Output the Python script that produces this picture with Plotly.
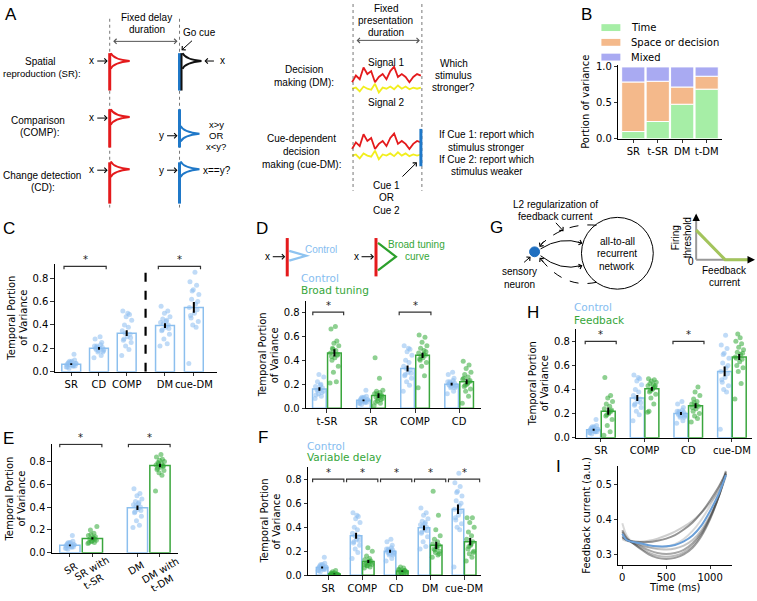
import plotly.graph_objects as go

W, H = 757, 601
ARIAL = "Liberation Sans, Arial, sans-serif"
DEJAVU = "DejaVu Sans, sans-serif"

BLUE_EDGE = "#8cbfee"
BLUE_PT = "rgba(140,190,240,0.55)"
BLUE_TXT = "#86bdf0"
GREEN_EDGE = "#3aa63d"
GREEN_PT = "rgba(50,170,55,0.55)"
GREEN_TXT = "#35a639"

# ------------------------------------------------------------------ data
# Panel B: portion of variance
B_CATS = ["SR", "t-SR", "DM", "t-DM"]
B_TIME = [0.10, 0.24, 0.48, 0.69]
B_SPACE = [0.69, 0.56, 0.24, 0.18]
B_MIXED = [0.21, 0.20, 0.28, 0.13]

# Per-network temporal portion of variance
SR_CTRL = [0.04, 0.05, 0.06, 0.07, 0.08, 0.09, 0.10, 0.06, 0.05, 0.03, 0.07, 0.08, 0.15, 0.04, 0.06, 0.09, 0.05, 0.07]
CD_CTRL = [0.12, 0.14, 0.17, 0.18, 0.19, 0.20, 0.21, 0.22, 0.23, 0.22, 0.19, 0.18, 0.25, 0.28, 0.30, 0.21, 0.17, 0.20]
COMP_CTRL = [0.14, 0.19, 0.22, 0.25, 0.28, 0.30, 0.32, 0.35, 0.38, 0.40, 0.44, 0.47, 0.49, 0.52, 0.50, 0.33, 0.29, 0.27]
DM_CTRL = [0.22, 0.24, 0.28, 0.32, 0.36, 0.38, 0.40, 0.42, 0.44, 0.45, 0.47, 0.50, 0.52, 0.56, 0.43, 0.41, 0.37, 0.35]
CUEDM_CTRL = [0.07, 0.38, 0.40, 0.43, 0.46, 0.50, 0.53, 0.55, 0.58, 0.62, 0.66, 0.70, 0.74, 0.77, 0.85, 0.69, 0.60, 0.48]
TSR_CTRL = [0.08, 0.10, 0.12, 0.14, 0.15, 0.16, 0.17, 0.18, 0.20, 0.22, 0.26, 0.28, 0.13, 0.11, 0.19, 0.15]
TSR_BROAD = [0.21, 0.22, 0.30, 0.35, 0.40, 0.42, 0.44, 0.46, 0.48, 0.50, 0.52, 0.54, 0.56, 0.66, 0.68, 0.49, 0.45, 0.43]
SR_BROAD = [0.02, 0.04, 0.06, 0.08, 0.09, 0.10, 0.11, 0.12, 0.13, 0.14, 0.15, 0.08, 0.07, 0.42, 0.25, 0.12, 0.10, 0.05]
COMP_BROAD = [0.17, 0.27, 0.35, 0.38, 0.40, 0.42, 0.44, 0.46, 0.48, 0.50, 0.52, 0.55, 0.59, 0.61, 0.45, 0.43, 0.47, 0.41]
CD_BROAD = [0.04, 0.10, 0.14, 0.16, 0.18, 0.20, 0.22, 0.24, 0.26, 0.28, 0.30, 0.33, 0.36, 0.39, 0.21, 0.19, 0.23, 0.25]
SR_WITH_TSR = [0.08, 0.09, 0.10, 0.11, 0.12, 0.13, 0.14, 0.15, 0.17, 0.20, 0.23, 0.10, 0.12, 0.09, 0.13, 0.16]
DM_WITH_TDM = [0.54, 0.68, 0.70, 0.72, 0.74, 0.75, 0.76, 0.77, 0.78, 0.79, 0.80, 0.81, 0.82, 0.84, 0.86, 0.78, 0.76, 0.73]
SR_VAR = [0.0, 0.005, 0.01, 0.01, 0.015, 0.02, 0.005, 0.01, 0.04, 0.03, 0.0, 0.008, 0.012, 0.02]
COMP_VAR = [0.06, 0.07, 0.08, 0.09, 0.10, 0.11, 0.12, 0.13, 0.14, 0.16, 0.20, 0.23, 0.10, 0.09, 0.12, 0.08]
CD_VAR = [0.01, 0.015, 0.02, 0.025, 0.03, 0.035, 0.04, 0.05, 0.06, 0.07, 0.03, 0.02, 0.04, 0.045]
DM_VAR = [0.15, 0.17, 0.19, 0.20, 0.22, 0.24, 0.25, 0.26, 0.28, 0.30, 0.33, 0.38, 0.50, 0.70, 0.23, 0.21, 0.18]
CUEDM_VAR = [0.12, 0.15, 0.18, 0.20, 0.22, 0.25, 0.28, 0.30, 0.33, 0.36, 0.40, 0.44, 0.48, 0.48, 0.26, 0.24, 0.19]
SR_FB = [0.02, 0.05, 0.10, 0.15, 0.18, 0.20, 0.22, 0.24, 0.26, 0.28, 0.30, 0.33, 0.35, 0.50, 0.21, 0.19, 0.23]
COMP_FB = [0.21, 0.28, 0.33, 0.36, 0.38, 0.40, 0.42, 0.43, 0.44, 0.45, 0.46, 0.47, 0.48, 0.49, 0.41, 0.39, 0.43, 0.22]
CD_FB = [0.13, 0.16, 0.18, 0.20, 0.22, 0.24, 0.26, 0.28, 0.30, 0.32, 0.35, 0.38, 0.42, 0.25, 0.27, 0.29]
CUEDM_FB = [0.32, 0.45, 0.55, 0.58, 0.60, 0.63, 0.65, 0.67, 0.69, 0.71, 0.73, 0.75, 0.78, 0.80, 0.83, 0.86, 0.70, 0.66]

# Panel C
C_CATS = ["SR", "CD", "COMP", "DM", "cue-DM"]
C_MEAN = [0.065, 0.20, 0.33, 0.395, 0.55]
C_SEM = [0.008, 0.012, 0.025, 0.02, 0.045]
C_PTS = [SR_CTRL, CD_CTRL, COMP_CTRL, DM_CTRL, CUEDM_CTRL]

# Panel D
D_CATS = ["t-SR", "SR", "COMP", "CD"]
D_CTRL_MEAN = [0.16, 0.065, 0.33, 0.20]
D_CTRL_SEM = [0.015, 0.008, 0.025, 0.012]
D_BROAD_MEAN = [0.46, 0.105, 0.44, 0.22]
D_BROAD_SEM = [0.03, 0.02, 0.022, 0.02]
D_CTRL_PTS = [TSR_CTRL, SR_CTRL, COMP_CTRL, CD_CTRL]
D_BROAD_PTS = [TSR_BROAD, SR_BROAD, COMP_BROAD, CD_BROAD]

# Panel E
E_CATS = ["SR", "SR with t-SR", "DM", "DM with t-DM"]
E_MEAN = [0.065, 0.125, 0.395, 0.765]
E_SEM = [0.008, 0.01, 0.02, 0.015]
E_PTS = [SR_CTRL, SR_WITH_TSR, DM_CTRL, DM_WITH_TDM]

# Panel F
F_CATS = ["SR", "COMP", "CD", "DM", "cue-DM"]
F_CTRL_MEAN = [0.065, 0.33, 0.20, 0.395, 0.55]
F_CTRL_SEM = [0.008, 0.025, 0.012, 0.02, 0.04]
F_VAR_MEAN = [0.012, 0.115, 0.035, 0.25, 0.28]
F_VAR_SEM = [0.004, 0.012, 0.006, 0.03, 0.03]
F_CTRL_PTS = [SR_CTRL, COMP_CTRL, CD_CTRL, DM_CTRL, CUEDM_CTRL]
F_VAR_PTS = [SR_VAR, COMP_VAR, CD_VAR, DM_VAR, CUEDM_VAR]

# Panel H
H_CATS = ["SR", "COMP", "CD", "cue-DM"]
H_CTRL_MEAN = [0.065, 0.33, 0.20, 0.55]
H_CTRL_SEM = [0.008, 0.025, 0.012, 0.04]
H_FB_MEAN = [0.22, 0.405, 0.265, 0.67]
H_FB_SEM = [0.03, 0.015, 0.02, 0.025]
H_CTRL_PTS = [SR_CTRL, COMP_CTRL, CD_CTRL, CUEDM_CTRL]
H_FB_PTS = [SR_FB, COMP_FB, CD_FB, CUEDM_FB]

# Panel I: feedback current over time
I_TIME = [0, 50, 100, 200, 300, 400, 500, 600, 700, 800, 900, 1000, 1100, 1180]
I_GRAY = [
    [0.345, 0.340, 0.338, 0.337, 0.340, 0.346, 0.355, 0.366, 0.380, 0.397, 0.420, 0.448, 0.485, 0.530],
    [0.350, 0.342, 0.339, 0.336, 0.336, 0.340, 0.346, 0.356, 0.372, 0.392, 0.420, 0.455, 0.495, 0.532],
    [0.355, 0.343, 0.338, 0.330, 0.321, 0.316, 0.315, 0.318, 0.326, 0.342, 0.370, 0.412, 0.468, 0.525],
    [0.365, 0.345, 0.337, 0.325, 0.313, 0.305, 0.302, 0.305, 0.314, 0.333, 0.363, 0.408, 0.468, 0.530],
    [0.350, 0.342, 0.336, 0.320, 0.306, 0.297, 0.294, 0.297, 0.307, 0.326, 0.358, 0.405, 0.468, 0.535],
    [0.370, 0.348, 0.337, 0.318, 0.301, 0.291, 0.288, 0.291, 0.301, 0.320, 0.353, 0.402, 0.468, 0.538],
    [0.390, 0.355, 0.340, 0.328, 0.322, 0.320, 0.322, 0.330, 0.345, 0.368, 0.400, 0.440, 0.490, 0.540],
]
I_GRAY_ALPHA = [0.25, 0.55, 0.3, 0.45, 0.35, 0.5, 0.2]
I_BLUE = [0.360, 0.342, 0.338, 0.333, 0.327, 0.324, 0.324, 0.328, 0.338, 0.355, 0.383, 0.425, 0.475, 0.528]

# Panel A schematic noisy signals (relative amplitude)
SIGNAL1 = [0.1, 0.55, 0.3, 1.1, 0.65, 0.85, 0.1, 0.45, 0.65, 0.3, 0.85, 1.15, 0.45, 0.65, 0.45, 0.1, 0.45, 0.65, 0.55]
SIGNAL2 = [0.35, 0.45, 0.1, 0.55, 0.35, 0.25, 0.8, 0.0, 0.45, 0.35, 0.55, 0.3, 0.65, 0.35, 0.55, 0.3, 0.45, 0.35, 0.45]

# fixed jitter pattern for the strip points (fraction of spread)
JITTER = [-0.9, 0.4, -0.2, 0.8, -0.5, 0.1, 0.6, -0.8, 0.3, -0.4, 0.9, -0.1, 0.5, -0.7, 0.2, -0.3, 0.7, -0.6, 0.0, 0.45]

# ------------------------------------------------------------------ helpers
fig = go.Figure()
shapes = []
annotations = []
layout = {}


def ref(n):
    return ("x", "y") if n == 1 else (f"x{n}", f"y{n}")


def key(n):
    return ("xaxis", "yaxis") if n == 1 else (f"xaxis{n}", f"yaxis{n}")


AX = dict(showline=True, linecolor="black", linewidth=1, ticks="outside", ticklen=3.5,
          tickwidth=0.8, tickcolor="black", showgrid=False, zeroline=False, tickangle=0,
          tickfont=dict(family=DEJAVU, size=10, color="black"), fixedrange=True)


def make_axes(n, px0, px1, pyt, pyb, xr, yr, xvals=None, xtext=None, yvals=None, yfmt=None):
    kx, ky = key(n)
    rx, ry = ref(n)
    xa = dict(AX, domain=[px0 / W, px1 / W], range=xr, anchor=ry)
    ya = dict(AX, domain=[1 - pyb / H, 1 - pyt / H], range=yr, anchor=rx)
    if xvals is not None:
        xa.update(tickmode="array", tickvals=xvals, ticktext=xtext)
    if yvals is not None:
        ya.update(tickmode="array", tickvals=yvals)
    if yfmt:
        ya.update(tickformat=yfmt)
    layout[kx] = xa
    layout[ky] = ya


def txt(x, y, s, size=10, color="black", anchor="center", family=ARIAL, angle=0, n=1):
    rx, ry = ref(n)
    annotations.append(dict(x=x, y=y, xref=rx, yref=ry, text=s, showarrow=False,
                            font=dict(family=family, size=size, color=color),
                            xanchor=anchor, yanchor="middle", textangle=angle))


def arrow(x0, y0, x1, y1, head=4, color="black", width=1, size=1.0, both=False):
    annotations.append(dict(x=x1, y=y1, ax=x0, ay=y0, xref="x", yref="y", axref="x", ayref="y",
                            text="", showarrow=True, arrowhead=head, arrowsize=size,
                            arrowwidth=width, arrowcolor=color,
                            arrowside="end+start" if both else "end",
                            startarrowhead=head, startarrowsize=size, standoff=0, startstandoff=0))


def line(x0, y0, x1, y1, color="black", width=1, dash="solid", n=1):
    rx, ry = ref(n)
    shapes.append(dict(type="line", x0=x0, y0=y0, x1=x1, y1=y1, xref=rx, yref=ry,
                       line=dict(color=color, width=width, dash=dash)))


def path(p, color="black", width=1, dash="solid", fill=None, n=1):
    rx, ry = ref(n)
    d = dict(type="path", path=p, xref=rx, yref=ry, line=dict(color=color, width=width, dash=dash))
    if fill:
        d["fillcolor"] = fill
    shapes.append(d)


def bracket(n, x1, x2, level, drop=0.025):
    path(f"M {x1},{level - drop} L {x1},{level} L {x2},{level} L {x2},{level - drop}",
         color="#333", width=1.2, n=n)
    rx, ry = ref(n)
    annotations.append(dict(x=(x1 + x2) / 2, y=level - 0.005, xref=rx, yref=ry, text="*", showarrow=False,
                            yanchor="bottom", yshift=0,
                            font=dict(family=DEJAVU, size=10, color="#222")))


def bar_group(n, xs, means, sems, pts, edge, ptcol, width, spread):
    rx, ry = ref(n)
    fig.add_trace(go.Bar(x=xs, y=means, width=width, xaxis=rx, yaxis=ry,
                         marker=dict(color="rgba(255,255,255,0)", line=dict(color=edge, width=1.5))))
    px, py = [], []
    for xc, vals in zip(xs, pts):
        for k, v in enumerate(vals):
            px.append(xc + JITTER[k % len(JITTER)] * spread)
            py.append(v)
    fig.add_trace(go.Scatter(x=px, y=py, mode="markers", xaxis=rx, yaxis=ry,
                             marker=dict(size=5, color=ptcol, line=dict(width=0))))
    fig.add_trace(go.Scatter(x=xs, y=means, mode="markers", xaxis=rx, yaxis=ry,
                             marker=dict(size=1, color="rgba(0,0,0,0)"),
                             error_y=dict(type="data", array=sems, visible=True, color="black",
                                          thickness=2, width=0)))


# ------------------------------------------------------------------ overlay axis (pixel space)
layout["xaxis"] = dict(domain=[0, 1], range=[0, W], visible=False, fixedrange=True)
layout["yaxis"] = dict(domain=[0, 1], range=[H, 0], visible=False, fixedrange=True)
fig.add_trace(go.Scatter(x=[0, W], y=[0, H], mode="markers", marker=dict(size=1, opacity=0),
                         xaxis="x", yaxis="y", hoverinfo="skip"))

# ------------------------------------------------------------------ panel B
make_axes(2, 620, 724, 62, 137, [-0.61, 3.63], [0, 1.027], xvals=[0, 1, 2, 3], xtext=B_CATS,
          yvals=[0, 0.5, 1.0], yfmt=".1f")
base2 = [t + s for t, s in zip(B_TIME, B_SPACE)]
for vals, base, col in [(B_TIME, [0, 0, 0, 0], "#a6eea6"), (B_SPACE, B_TIME, "#f4b98b"),
                        (B_MIXED, base2, "#a9aaf2")]:
    fig.add_trace(go.Bar(x=[0, 1, 2, 3], y=vals, base=base, width=0.95, xaxis="x2", yaxis="y2",
                         marker=dict(color=col, line=dict(color="white", width=1))))
for yc, col, lab in [(24, "#a6eea6", "Time"), (39, "#f4b98b", "Space or decision"), (54, "#a9aaf2", "Mixed")]:
    shapes.append(dict(type="rect", x0=603, x1=622, y0=yc - 3.5, y1=yc + 3.5, xref="x", yref="y",
                       fillcolor=col, line=dict(width=0)))
    txt(631, yc, lab, family=DEJAVU, anchor="left")
txt(587, 99, "Portion of variance", family=DEJAVU, angle=-90)

# ------------------------------------------------------------------ panel C
C_POS = [0, 1, 2, 3.38, 4.42]
make_axes(3, 55, 218, 264, 374, [-0.59, 5.27], [0, 0.924], xvals=C_POS, xtext=C_CATS,
          yvals=[0, 0.2, 0.4, 0.6, 0.8], yfmt=".1f")
bar_group(3, C_POS, C_MEAN, C_SEM, C_PTS, BLUE_EDGE, BLUE_PT, 0.68, 0.2)
line(2.68, 0, 2.68, 0.88, color="black", width=2.2, dash="dash", n=3)
bracket(3, -0.26, 1.26, 0.9)
bracket(3, 3.14, 4.66, 0.9)
txt(12, 319, "Temporal Portion", family=DEJAVU, angle=-90)
txt(24, 319, "of Variance", family=DEJAVU, angle=-90)

# ------------------------------------------------------------------ panel D
D_POS = [0, 1, 2, 3]
make_axes(4, 307, 482, 302, 411, [-0.47, 3.49], [0, 0.893], xvals=D_POS, xtext=D_CATS,
          yvals=[0, 0.2, 0.4, 0.6, 0.8], yfmt=".1f")
bar_group(4, [p - 0.17 for p in D_POS], D_CTRL_MEAN, D_CTRL_SEM, D_CTRL_PTS, BLUE_EDGE, BLUE_PT, 0.31, 0.11)
bar_group(4, [p + 0.17 for p in D_POS], D_BROAD_MEAN, D_BROAD_SEM, D_BROAD_PTS, GREEN_EDGE, GREEN_PT, 0.31, 0.11)
bracket(4, -0.32, 0.38, 0.8)
bracket(4, 1.64, 2.36, 0.8)
txt(263, 357, "Temporal Portion", family=DEJAVU, angle=-90)
txt(275, 357, "of Variance", family=DEJAVU, angle=-90)
txt(300, 279, "Control", family=DEJAVU, color=BLUE_TXT, anchor="left", size=10.5)
txt(300, 291, "Broad tuning", family=DEJAVU, color=GREEN_TXT, anchor="left", size=10.5)
# D schematic
line(288, 238, 288, 277, color="#e41a1c", width=3)
txt(268, 257, "x", size=10)
arrow(272, 257, 286, 257)
path("M 290,251 L 307,256 L 290,261", color="#8ec3f0", width=2.2)
txt(304, 250, "Control", color=BLUE_TXT, anchor="left")
line(377, 238, 377, 277, color="#e41a1c", width=3)
txt(357, 257, "x", size=10)
arrow(361, 257, 375, 257)
path("M 379,243 L 397,257 L 379,271", color="#2ca02c", width=2.2)
txt(418, 245, "Broad tuning", color=GREEN_TXT)
txt(419, 257, "curve", color=GREEN_TXT)

# ------------------------------------------------------------------ panel E
E_POS = [0, 1, 3, 4]
make_axes(5, 52, 178, 447, 558, [-0.8, 4.78], [0, 0.957], xvals=E_POS, xtext=["", "", "", ""],
          yvals=[0, 0.2, 0.4, 0.6, 0.8], yfmt=".1f")
bar_group(5, E_POS[:1] + E_POS[2:3], [E_MEAN[0], E_MEAN[2]], [E_SEM[0], E_SEM[2]],
          [E_PTS[0], E_PTS[2]], BLUE_EDGE, BLUE_PT, 0.9, 0.22)
bar_group(5, E_POS[1:2] + E_POS[3:4], [E_MEAN[1], E_MEAN[3]], [E_SEM[1], E_SEM[3]],
          [E_PTS[1], E_PTS[3]], GREEN_EDGE, GREEN_PT, 0.9, 0.22)
bracket(5, -0.45, 1.42, 0.95)
bracket(5, 2.6, 4.45, 0.95)
txt(10, 503, "Temporal Portion", family=DEJAVU, angle=-90)
txt(22, 503, "of Variance", family=DEJAVU, angle=-90)
txt(71, 574, "SR", family=DEJAVU, angle=-30)
txt(92, 574, "SR with", family=DEJAVU, angle=-30)
txt(94, 587, "t-SR", family=DEJAVU, angle=-30)
txt(136, 574, "DM", family=DEJAVU, angle=-30)
txt(161, 576, "DM with", family=DEJAVU, angle=-30)
txt(162, 589, "t-DM", family=DEJAVU, angle=-30)

# ------------------------------------------------------------------ panel F
F_POS = [0, 1, 2, 3, 4]
make_axes(6, 309, 482, 471, 581, [-0.59, 4.49], [0, 0.90], xvals=F_POS, xtext=F_CATS,
          yvals=[0, 0.2, 0.4, 0.6, 0.8], yfmt=".1f")
bar_group(6, [p - 0.18 for p in F_POS], F_CTRL_MEAN, F_CTRL_SEM, F_CTRL_PTS, BLUE_EDGE, BLUE_PT, 0.34, 0.13)
bar_group(6, [p + 0.18 for p in F_POS], F_VAR_MEAN, F_VAR_SEM, F_VAR_PTS, GREEN_EDGE, GREEN_PT, 0.34, 0.13)
for p in F_POS:
    bracket(6, p - 0.46, p + 0.46, 0.8)
txt(265, 526, "Temporal Portion", family=DEJAVU, angle=-90)
txt(277, 526, "of Variance", family=DEJAVU, angle=-90)
txt(306, 449, "Control", family=DEJAVU, color=BLUE_TXT, anchor="left", size=10.5)
txt(306, 461, "Variable delay", family=DEJAVU, color=GREEN_TXT, anchor="left", size=10.5)

# ------------------------------------------------------------------ panel H
H_POS = [0, 1, 2, 3]
make_axes(7, 578, 754, 331, 441, [-0.56, 3.46], [0, 0.898], xvals=H_POS, xtext=H_CATS,
          yvals=[0, 0.2, 0.4, 0.6, 0.8], yfmt=".1f")
bar_group(7, [p - 0.167 for p in H_POS], H_CTRL_MEAN, H_CTRL_SEM, H_CTRL_PTS, BLUE_EDGE, BLUE_PT, 0.32, 0.11)
bar_group(7, [p + 0.167 for p in H_POS], H_FB_MEAN, H_FB_SEM, H_FB_PTS, GREEN_EDGE, GREEN_PT, 0.32, 0.11)
bracket(7, -0.36, 0.35, 0.8)
bracket(7, 1.65, 2.36, 0.8)
txt(534, 386, "Temporal Portion", family=DEJAVU, angle=-90)
txt(546, 386, "of Variance", family=DEJAVU, angle=-90)
txt(574, 308, "Control", family=DEJAVU, color=BLUE_TXT, anchor="left", size=10.5)
txt(574, 321, "Feedback", family=DEJAVU, color=GREEN_TXT, anchor="left", size=10.5)

# ------------------------------------------------------------------ panel I
make_axes(8, 620, 734, 470, 570, [-45, 1250], [0.272, 0.553], xvals=[0, 500, 1000],
          xtext=["0", "500", "1000"], yvals=[0.3, 0.4, 0.5], yfmt=".1f")
for vals, a in zip(I_GRAY, I_GRAY_ALPHA):
    fig.add_trace(go.Scatter(x=I_TIME, y=vals, mode="lines", xaxis="x8", yaxis="y8",
                             line=dict(color=f"rgba(60,60,60,{a})", width=2, shape="spline", smoothing=1.0)))
fig.add_trace(go.Scatter(x=I_TIME, y=I_BLUE, mode="lines", xaxis="x8", yaxis="y8",
                         line=dict(color="#6a9fd8", width=2, shape="spline", smoothing=1.0)))
txt(588, 520, "Feedback current (a.u.)", family=DEJAVU, angle=-90)
txt(677, 593, "Time (ms)", family=DEJAVU)

# ------------------------------------------------------------------ panel A schematic
RED, BLU, YEL = "#e41a1c", "#1f78c8", "#f2ee1e"
line(110, 15, 110, 207, color="#777", width=1, dash="dot")
line(180, 15, 180, 207, color="#777", width=1, dash="dot")
arrow(112, 38, 178, 38, both=True, color="#555")
txt(147, 14, "Fixed delay")
txt(147, 26, "duration")
txt(200, 29, "Go cue")
arrow(194, 36, 182, 47)


def flag(x, yc, col, L=19, h=8):
    path(f"M {x},{yc - h} Q {x + 3},{yc - 1.5} {x + L},{yc} Q {x + 3},{yc + 1.5} {x},{yc + h}",
         color=col, width=2)


# SR row
txt(41, 58, "Spatial")
txt(83, 71, "reproduction (SR):", anchor="right", size=9.5)
line(110, 50, 110, 88, color=RED, width=3)
flag(111, 58, RED)
txt(92, 57, "x")
arrow(96, 58, 108, 58)
line(180, 50, 180, 88, color=BLU, width=3)
line(182, 50, 182, 88, color="#111", width=2)
flag(183, 58, "#111")
arrow(216, 58, 205, 58)
txt(223, 57, "x")
# COMP row
txt(38, 118, "Comparison")
txt(40, 131, "(COMP):")
line(110, 107, 110, 146, color=RED, width=3)
flag(111, 115, RED)
txt(92, 115, "x")
arrow(96, 116, 108, 116)
line(180, 107, 180, 146, color=BLU, width=3)
flag(181, 132, BLU)
txt(162, 134, "y")
arrow(166, 134, 178, 134)
txt(217, 123, "x>y", size=9.5)
txt(217, 134, "OR", size=9.5)
txt(217, 145, "x<y?", size=9.5)
# CD row
txt(42, 174, "Change detection")
txt(43, 187, "(CD):")
line(110, 161, 110, 203, color=RED, width=3)
flag(111, 168, RED)
txt(92, 168, "x")
arrow(96, 169, 108, 169)
line(180, 161, 180, 203, color=BLU, width=3)
flag(181, 168, BLU)
txt(162, 169, "y")
arrow(166, 169, 178, 169)
txt(218, 169, "x==y?")

# DM rows
line(354, 0, 354, 190, color="#777", width=1, dash="dot")
line(423, 0, 423, 190, color="#777", width=1, dash="dot")
arrow(356, 37, 421, 37, both=True, color="#555")
txt(387, 5, "Fixed")
txt(387, 17, "presentation")
txt(387, 29, "duration")
txt(305, 67, "Decision")
txt(305, 80, "making (DM):")
txt(388, 59, "Signal 1")
txt(388, 100, "Signal 2")
txt(455, 61, "Which")
txt(455, 73, "stimulus")
txt(455, 85, "stronger?")
sx = [353 + k * (69 / (len(SIGNAL1) - 1)) for k in range(len(SIGNAL1))]
for off in (0, 68):
    fig.add_trace(go.Scatter(x=sx, y=[90 + off - 11 * v for v in SIGNAL2], mode="lines", xaxis="x", yaxis="y",
                             line=dict(color=YEL, width=1.8)))
    fig.add_trace(go.Scatter(x=sx, y=[81 + off - 15 * v for v in SIGNAL1], mode="lines", xaxis="x", yaxis="y",
                             line=dict(color=RED, width=1.8)))
txt(302, 137, "Cue-dependent")
txt(302, 150, "decision")
txt(302, 163, "making (cue-DM):")
line(422, 127, 422, 165, color=BLU, width=3)
txt(488, 133, "If Cue 1: report which")
txt(488, 146, "stimulus stronger")
txt(488, 158, "If Cue 2: report which")
txt(488, 170, "stimulus weaker")
txt(388, 185, "Cue 1")
txt(388, 197, "OR")
txt(388, 210, "Cue 2")
arrow(402, 177, 418, 161)

# ------------------------------------------------------------------ panel G schematic
shapes.append(dict(type="circle", x0=583, x1=655, y0=217, y1=290, xref="x", yref="y",
                   line=dict(color="black", width=1)))
txt(619, 242, "all-to-all")
txt(619, 254, "recurrent")
txt(619, 267, "network")
shapes.append(dict(type="circle", x0=531, x1=541, y0=247, y1=257, xref="x", yref="y",
                   fillcolor="#1f6fc0", line=dict(color="#1f6fc0", width=1)))
path("M 542,249 Q 562,236 583,243", width=1)
arrow(578, 241.5, 584, 243.5)
path("M 542,256 Q 562,272 583,266", width=1)
arrow(578, 268, 584, 266)
path("M 598,225 Q 566,222 542,245", width=1, dash="dash")
arrow(546, 240, 541, 247)
path("M 598,283 Q 566,290 542,259", width=1, dash="dash")
arrow(546, 264, 541, 258)
txt(557, 204, "L2 regularization of")
txt(557, 216, "feedback current")
arrow(556, 221, 565, 231)
txt(521, 272, "sensory")
txt(521, 285, "neuron")
arrow(524, 264, 532, 257)
# firing threshold inset
line(698, 260, 698, 218, color="#999", width=2)
line(698, 260, 752, 260, color="#999", width=2)
arrow(698, 222, 698, 213, head=2, size=1, width=1.5)
arrow(749, 260, 757, 260, head=2, size=1, width=1.5)
path("M 698,230 L 727,260 L 750,260", color="#a3c45c", width=3)
txt(693, 262, "0", size=10)
txt(677, 238, "Firing", angle=-90)
txt(689, 238, "threshold", angle=-90)
txt(726, 271, "Feedback")
txt(726, 283, "current")

# ------------------------------------------------------------------ panel letters
for lx, ly, s in [(11, 11, "A"), (588, 11, "B"), (9, 228, "C"), (263, 228, "D"), (498, 227, "G"),
                  (9, 442, "E"), (264, 441, "F"), (534, 314, "H"), (560, 470, "I")]:
    txt(lx, ly, s, size=17)

fig.update_layout(
    width=W, height=H, margin=dict(l=0, r=0, t=0, b=0),
    paper_bgcolor="white", plot_bgcolor="rgba(0,0,0,0)",
    showlegend=False, barmode="overlay",
    shapes=shapes, annotations=annotations,
    **layout,
)
fig.write_html("out.html",
               config={"displayModeBar": False, "staticPlot": True},
               post_script="document.body.style.margin='0px';document.body.style.padding='0px';"
                           "document.documentElement.style.overflow='hidden';")
